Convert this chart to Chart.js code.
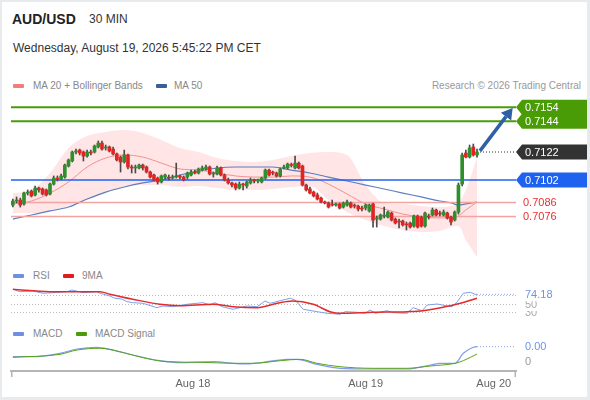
<!DOCTYPE html>
<html><head><meta charset="utf-8">
<script src="https://cdn.jsdelivr.net/npm/chart.js@4.4.1/dist/chart.umd.min.js"></script>
<style>
html,body{margin:0;padding:0;}
body{width:590px;height:400px;background:#e8ebee;position:relative;overflow:hidden;font-family:"Liberation Sans",Arial,sans-serif;}
#card{position:absolute;left:2px;top:2px;width:585px;height:395px;background:#fff;}
.t{position:absolute;white-space:nowrap;}
.sw{position:absolute;width:11px;height:4px;border-radius:1px;}
canvas{position:absolute;left:0;}
</style></head><body>
<div id="card"></div>
<div class="t" style="left:12px;top:12px;font-size:14px;line-height:14px;font-weight:bold;color:#222">AUD/USD</div>
<div class="t" style="left:89px;top:12px;font-size:12px;line-height:14px;color:#333">30 MIN</div>
<div class="t" style="left:13px;top:41px;font-size:12px;line-height:14px;color:#333">Wednesday, August 19, 2026 5:45:22 PM CET</div>
<div class="sw" style="left:13px;top:84px;background:#f77b7b"></div>
<div class="t" style="left:33px;top:80px;font-size:10px;line-height:12px;color:#888">MA 20 + Bollinger Bands</div>
<div class="sw" style="left:156px;top:84px;background:#3a5e9c"></div>
<div class="t" style="left:174px;top:80px;font-size:10px;line-height:12px;color:#888">MA 50</div>
<div class="t" style="right:9px;top:80px;font-size:10px;line-height:12px;color:#999">Research © 2026 Trading Central</div>
<div class="sw" style="left:13px;top:274px;background:#6d8fe6"></div>
<div class="t" style="left:33px;top:270px;font-size:10px;line-height:12px;color:#888">RSI</div>
<div class="sw" style="left:63px;top:274px;background:#e31b1b"></div>
<div class="t" style="left:82px;top:270px;font-size:10px;line-height:12px;color:#888">9MA</div>
<div class="sw" style="left:13px;top:332px;background:#6d8fe6"></div>
<div class="t" style="left:33px;top:328px;font-size:10px;line-height:12px;color:#888">MACD</div>
<div class="sw" style="left:76px;top:332px;background:#4a9a0a"></div>
<div class="t" style="left:95px;top:328px;font-size:10px;line-height:12px;color:#888">MACD Signal</div>
<canvas id="main" width="590" height="175" style="top:90px;width:590px;height:175px"></canvas>
<canvas id="rsi" width="590" height="34" style="top:284px;width:590px;height:34px"></canvas>
<canvas id="macd" width="590" height="60" style="top:338px;width:590px;height:60px"></canvas>
<script>
// ---- data ----
const open = [0.70841,0.70870,0.70877,0.70849,0.70927,0.70941,0.70913,0.70963,0.70956,0.70949,
0.70920,0.70991,0.71034,0.71027,0.71041,0.71120,0.71156,0.71220,0.71234,0.71220,
0.71191,0.71220,0.71220,0.71256,0.71284,0.71249,0.71256,0.71241,0.71206,0.71184,
0.71149,0.71199,0.71113,0.71106,0.71106,0.71127,0.71113,0.71077,0.71056,0.71034,
0.71006,0.71041,0.71041,0.71034,0.71041,0.71049,0.71041,0.71041,0.71056,0.71077,
0.71070,0.71091,0.71099,0.71113,0.71063,0.71063,0.71106,0.71056,0.71020,0.70999,
0.70991,0.70963,0.70991,0.70977,0.70999,0.71020,0.71013,0.71006,0.71034,0.71091,
0.71077,0.71070,0.71049,0.71106,0.71106,0.71127,0.71106,0.71141,0.71120,0.70984,
0.70956,0.70934,0.70913,0.70891,0.70863,0.70856,0.70849,0.70841,0.70849,0.70827,
0.70841,0.70856,0.70841,0.70834,0.70820,0.70820,0.70799,0.70849,0.70741,0.70741,
0.70763,0.70756,0.70784,0.70741,0.70727,0.70727,0.70706,0.70713,0.70691,0.70763,
0.70756,0.70691,0.70763,0.70770,0.70806,0.70784,0.70770,0.70784,0.70756,0.70734,
0.70791,0.70991,0.71213,0.71184,0.71256,0.71199];
const high = [0.70884,0.70899,0.70891,0.70934,0.70949,0.70949,0.70977,0.70970,0.70963,0.70956,
0.70999,0.71049,0.71049,0.71063,0.71134,0.71170,0.71227,0.71241,0.71241,0.71227,
0.71234,0.71234,0.71270,0.71299,0.71299,0.71270,0.71263,0.71256,0.71213,0.71191,
0.71234,0.71206,0.71127,0.71127,0.71134,0.71134,0.71120,0.71084,0.71063,0.71041,
0.71056,0.71063,0.71056,0.71056,0.71141,0.71056,0.71049,0.71077,0.71091,0.71091,
0.71106,0.71120,0.71127,0.71120,0.71077,0.71120,0.71113,0.71063,0.71034,0.71006,
0.70999,0.71006,0.70999,0.71013,0.71034,0.71027,0.71027,0.71041,0.71099,0.71099,
0.71084,0.71077,0.71106,0.71127,0.71141,0.71141,0.71191,0.71149,0.71127,0.70991,
0.70970,0.70941,0.70927,0.70899,0.70870,0.70863,0.70877,0.70856,0.70856,0.70863,
0.70877,0.70863,0.70849,0.70841,0.70834,0.70849,0.70849,0.70856,0.70763,0.70777,
0.70827,0.70799,0.70791,0.70749,0.70741,0.70734,0.70720,0.70720,0.70770,0.70770,
0.70763,0.70791,0.70777,0.70820,0.70813,0.70799,0.70806,0.70791,0.70763,0.70799,
0.70999,0.71213,0.71234,0.71270,0.71277,0.71241];
const low = [0.70827,0.70856,0.70827,0.70841,0.70913,0.70899,0.70906,0.70934,0.70913,0.70906,
0.70913,0.70984,0.71013,0.71020,0.71034,0.71113,0.71149,0.71206,0.71199,0.71156,
0.71184,0.71199,0.71213,0.71249,0.71234,0.71234,0.71220,0.71199,0.71156,0.71077,
0.71141,0.71099,0.71070,0.71070,0.71099,0.71091,0.71070,0.71034,0.71013,0.70991,
0.70999,0.71027,0.71020,0.71027,0.71034,0.71027,0.71013,0.71027,0.71049,0.71063,
0.71063,0.71084,0.71091,0.71056,0.71041,0.71056,0.71049,0.71013,0.70991,0.70970,
0.70949,0.70956,0.70949,0.70963,0.70991,0.70999,0.70999,0.70999,0.71027,0.71049,
0.71056,0.71041,0.71041,0.71099,0.71099,0.71113,0.71099,0.71099,0.70977,0.70941,
0.70920,0.70899,0.70877,0.70856,0.70849,0.70820,0.70834,0.70834,0.70813,0.70820,
0.70834,0.70820,0.70820,0.70799,0.70799,0.70806,0.70791,0.70684,0.70684,0.70734,
0.70749,0.70749,0.70727,0.70706,0.70677,0.70691,0.70663,0.70677,0.70684,0.70677,
0.70684,0.70684,0.70741,0.70763,0.70763,0.70763,0.70763,0.70741,0.70699,0.70727,
0.70777,0.70977,0.71177,0.71177,0.71191,0.71184];
const close = [0.70870,0.70877,0.70841,0.70927,0.70934,0.70906,0.70963,0.70949,0.70920,0.70913,
0.70991,0.71034,0.71027,0.71049,0.71127,0.71163,0.71220,0.71227,0.71213,0.71191,
0.71220,0.71213,0.71263,0.71284,0.71241,0.71256,0.71227,0.71206,0.71163,0.71149,
0.71199,0.71113,0.71106,0.71113,0.71127,0.71106,0.71077,0.71041,0.71020,0.71006,
0.71049,0.71056,0.71034,0.71041,0.71049,0.71041,0.71020,0.71070,0.71077,0.71070,
0.71099,0.71106,0.71113,0.71063,0.71070,0.71106,0.71056,0.71020,0.70999,0.70984,
0.70963,0.70991,0.70984,0.71006,0.71020,0.71013,0.71020,0.71034,0.71091,0.71056,
0.71070,0.71049,0.71099,0.71113,0.71134,0.71124,0.71141,0.71106,0.70984,0.70949,
0.70927,0.70906,0.70884,0.70863,0.70856,0.70827,0.70841,0.70849,0.70820,0.70856,
0.70863,0.70827,0.70834,0.70813,0.70813,0.70841,0.70841,0.70734,0.70749,0.70770,
0.70770,0.70791,0.70734,0.70713,0.70720,0.70699,0.70699,0.70684,0.70763,0.70684,
0.70691,0.70784,0.70756,0.70806,0.70770,0.70777,0.70791,0.70749,0.70720,0.70791,
0.70984,0.71199,0.71184,0.71249,0.71199,0.71220];

const indIdx = [0,5,10,15,20,25,30,35,40,45,50,55,60,65,70,75,80,85,90,95,100,105,110,115,118,120,122,125];
const ma20 = [0.70849,0.70870,0.70927,0.71006,0.71113,0.71177,0.71199,0.71184,0.71141,0.71099,0.71091,0.71070,0.71049,0.71041,0.71041,0.71049,0.71041,0.70991,0.70920,0.70849,0.70813,0.70777,0.70756,0.70749,0.70749,0.70763,0.70806,0.70863];
const bbUpper = [0.70927,0.70949,0.71070,0.71249,0.71334,0.71363,0.71377,0.71356,0.71306,0.71249,0.71220,0.71177,0.71156,0.71149,0.71163,0.71191,0.71213,0.71220,0.71199,0.70984,0.70856,0.70849,0.70834,0.70827,0.70834,0.70856,0.70949,0.71177];
const bbLower = [0.70784,0.70784,0.70799,0.70834,0.70877,0.70927,0.70970,0.70984,0.70984,0.70970,0.70977,0.70963,0.70949,0.70949,0.70956,0.70970,0.70977,0.70877,0.70791,0.70734,0.70691,0.70663,0.70649,0.70656,0.70684,0.70691,0.70592,0.70470];
const ma50 = [0.70741,0.70770,0.70799,0.70827,0.70884,0.70934,0.70970,0.70999,0.71020,0.71056,0.71084,0.71106,0.71113,0.71113,0.71113,0.71091,0.71070,0.71041,0.71013,0.70984,0.70956,0.70927,0.70899,0.70870,0.70856,0.70841,0.70849,0.70863];

const greenLevels = [0.7154, 0.7144];
const blueLevels = [0.7102];
const redLevels = [0.7086, 0.7076];
const lastPrice = 0.7122;
const arrowIdx = [125.8, 134.6];
const arrowPrice = [0.71228, 0.71535];

const rsiX = [0,1.9,5.4,8.1,10.8,14.6,15.9,18.9,22.6,23.5,26.1,27.5,29.4,30.7,32.3,35,38.8,40.4,43.1,46.9,51.2,53.1,54.4,56.3,59.3,63.1,65.8,67.9,69.3,72,74.7,76,78.2,81.9,84.6,88.1,89.5,92.7,94.9,96.2,97.6,100.8,102.4,106.2,107.8,110.2,111.6,114.3,117,118.3,119.7,121.3,123.2,124.5,125];
const rsiY = [86.8,80.8,82.5,76.8,78.3,80.8,85,78.3,80.8,76.8,70,64.3,62.5,55.8,53.3,51.8,40.8,45,43.3,49.3,53.3,47.5,53.3,43.3,36.8,45,43.3,57.5,51.8,58.3,64.3,60,36.8,30.8,26.8,24.3,30.8,29.3,26.8,35,26.8,33.3,28.3,26.8,40.8,33.3,47.5,50,45,43.3,55.8,76.8,79.3,74.3,74.18];
const rsiMaX = [0,10,23.5,26.1,32.3,39.6,45,53.9,59.3,65.8,71.2,75.2,80.9,85.4,88.1,97,106.2,110.5,117.8,120.5,125];
const rsiMaY = [86.8,80.8,80.8,74.3,61.8,49.3,45.8,49.3,43.3,40.8,51.8,57.5,49.3,30.8,26.8,29.3,30.8,33.3,45.8,51.8,64.3];
const rsiLevels = [30, 50, 70];

const macdX = [0,5.4,12.7,17.3,22.6,26.1,32.3,39.6,45,53.9,62,67.4,73.9,76.5,81.9,88.1,97,106.2,112.4,115.1,119.1,121.3,124,125];
const macdY = [0.000215,0.000215,0.000385,0.0006,0.000685,0.000585,0.0003,0.000015,-0.000085,-0.000035,-0.00015,-0.000065,0.000085,0.000085,-0.000165,-0.000365,-0.0004,-0.0004,-0.0002,-0.000115,-0.000115,0.000385,0.000685,0.000715];
const sigX = [0,12.7,17.3,23.5,28.8,35,41.5,50.4,59.3,64.7,72,77.4,81.9,88.1,97,106.2,112.4,119.1,121.3,125];
const sigY = [0.000185,0.000335,0.00055,0.000635,0.000465,0.000165,-0.000035,-0.000065,-0.000115,-0.000115,0.000015,0.000085,-0.000115,-0.000285,-0.000365,-0.000365,-0.00025,-0.000115,0.000015,0.00035];

const dayTickIdx = [48.5, 95, 129.5];
const dayLabels = ['Aug 18', 'Aug 19', 'Aug 20'];

// ---- config ----
const xMin = -0.5, xMax = 135.5;
const FONT = '"Liberation Sans", Arial, sans-serif';
const pad = {left: 11, right: 74};
const ptsOf = (xs, ys) => xs.map((x, i) => ({x, y: ys[i]}));
const candleIdx = open.map((_, i) => i);
const levelDs = (v, color, w) => ({type: 'line', data: [{x: xMin, y: v}, {x: xMax, y: v}], borderColor: color, borderWidth: w, pointRadius: 0, fill: false, order: 2});
const baseOpts = {responsive: false, animation: false, events: [], plugins: {legend: {display: false}, tooltip: {enabled: false}}};

function tag(ctx, a, yc, text, color) {
  const l = a.right, r = 587, h = 7.5;
  ctx.fillStyle = color;
  ctx.beginPath();
  ctx.moveTo(l, yc); ctx.lineTo(l + 6, yc - h); ctx.lineTo(r, yc - h); ctx.lineTo(r, yc + h); ctx.lineTo(l + 6, yc + h);
  ctx.closePath(); ctx.fill();
  ctx.fillStyle = '#fff'; ctx.font = '11px ' + FONT; ctx.textBaseline = 'middle'; ctx.textAlign = 'left';
  ctx.fillText(text, l + 9, yc + 0.5);
}

const mainDeco = {
  id: 'mainDeco',
  afterDraw(chart) {
    const {ctx, scales: {x, y}, chartArea: a} = chart;
    ctx.save();
    const yl = y.getPixelForValue(lastPrice);
    ctx.strokeStyle = '#333'; ctx.lineWidth = 1; ctx.setLineDash([1, 2]);
    ctx.beginPath(); ctx.moveTo(x.getPixelForValue(candleIdx.length - 1) + 3, yl); ctx.lineTo(a.right, yl); ctx.stroke();
    ctx.setLineDash([]);
    // arrow
    const x0 = x.getPixelForValue(arrowIdx[0]), y0 = y.getPixelForValue(arrowPrice[0]);
    const x1 = x.getPixelForValue(arrowIdx[1]), y1 = y.getPixelForValue(arrowPrice[1]);
    const ang = Math.atan2(y1 - y0, x1 - x0), hl = 11, hw = 6.5;
    const bx = x1 - hl * Math.cos(ang), by = y1 - hl * Math.sin(ang);
    ctx.strokeStyle = '#2f5fa7'; ctx.fillStyle = '#2f5fa7'; ctx.lineWidth = 3.5; ctx.lineCap = 'butt';
    ctx.beginPath(); ctx.moveTo(x0, y0); ctx.lineTo(bx, by); ctx.stroke();
    ctx.beginPath(); ctx.moveTo(x1, y1);
    ctx.lineTo(bx + hw * Math.sin(ang), by - hw * Math.cos(ang));
    ctx.lineTo(bx - hw * Math.sin(ang), by + hw * Math.cos(ang));
    ctx.closePath(); ctx.fill();
    // tags
    greenLevels.forEach(v => tag(ctx, a, y.getPixelForValue(v), v.toFixed(4), '#4a9c06'));
    tag(ctx, a, yl, lastPrice.toFixed(4), '#333333');
    blueLevels.forEach(v => tag(ctx, a, y.getPixelForValue(v), v.toFixed(4), '#1f62ef'));
    ctx.fillStyle = '#ee2e2e'; ctx.font = '11px ' + FONT; ctx.textBaseline = 'middle';
    redLevels.forEach(v => ctx.fillText(v.toFixed(4), a.right + 7, y.getPixelForValue(v) + 0.5));
    ctx.restore();
  }
};

new Chart(document.getElementById('main'), {
  type: 'bar',
  data: {datasets: [
    {type: 'bar', data: candleIdx.map(i => ({x: i, y: [open[i], close[i]]})),
     backgroundColor: candleIdx.map(i => close[i] >= open[i] ? '#2f8f2f' : '#e02424'),
     barThickness: 3, minBarLength: 1, grouped: false, order: 0},
    {type: 'bar', data: candleIdx.map(i => ({x: i, y: [low[i], high[i]]})),
     backgroundColor: '#4a4a4a', barThickness: 1, grouped: false, order: 1},
    ...greenLevels.map(v => levelDs(v, '#4a9c06', 2)),
    ...blueLevels.map(v => levelDs(v, '#2062ee', 1.5)),
    ...redLevels.map(v => levelDs(v, '#f4a3a3', 1.5)),
    {type: 'line', data: ptsOf(indIdx, ma20), borderColor: '#f29090', borderWidth: 1, pointRadius: 0, cubicInterpolationMode: 'monotone', fill: false, order: 3},
    {type: 'line', data: ptsOf(indIdx, ma50), borderColor: '#5b7fc0', borderWidth: 1.2, pointRadius: 0, cubicInterpolationMode: 'monotone', fill: false, order: 3},
    {type: 'line', data: ptsOf(indIdx, bbUpper), borderColor: 'rgba(0,0,0,0)', borderWidth: 0, pointRadius: 0, cubicInterpolationMode: 'monotone', fill: '+1', backgroundColor: 'rgba(255,175,175,0.33)', order: 5},
    {type: 'line', data: ptsOf(indIdx, bbLower), borderColor: 'rgba(0,0,0,0)', borderWidth: 0, pointRadius: 0, cubicInterpolationMode: 'monotone', fill: false, order: 5}
  ]},
  options: {...baseOpts,
    layout: {padding: {left: pad.left, right: pad.right, top: 0, bottom: 0}},
    scales: {
      x: {type: 'linear', min: xMin, max: xMax, offset: false, display: false},
      y: {type: 'linear', min: 0.70413, max: 0.71663, beginAtZero: false, display: false}
    }},
  plugins: [mainDeco]
});

const rsiDeco = {
  id: 'rsiDeco',
  afterDraw(chart) {
    const {ctx, scales: {x, y}, chartArea: a} = chart;
    const last = rsiY[rsiY.length - 1];
    ctx.save();
    const yl = y.getPixelForValue(last);
    ctx.strokeStyle = '#8aa6ec'; ctx.lineWidth = 1; ctx.setLineDash([1, 2]);
    ctx.beginPath(); ctx.moveTo(x.getPixelForValue(rsiX[rsiX.length - 1]), yl); ctx.lineTo(a.right, yl); ctx.stroke();
    ctx.setLineDash([]);
    const labs = [[30, '30', '#aaa'], [50, '50', '#aaa'], [last, last.toFixed(2), '#6f93ea']];
    ctx.font = '11px ' + FONT; ctx.textBaseline = 'middle';
    labs.forEach(([v, t, c]) => {
      const yc = y.getPixelForValue(v);
      ctx.fillStyle = '#fff'; ctx.fillRect(a.right + 5, yc - 7, 60, 14);
      ctx.fillStyle = c; ctx.fillText(t, a.right + 9, yc + 0.5);
    });
    ctx.restore();
  }
};

new Chart(document.getElementById('rsi'), {
  type: 'line',
  data: {datasets: [
    {data: ptsOf(rsiMaX, rsiMaY), borderColor: '#e42a2a', borderWidth: 1.5, pointRadius: 0, cubicInterpolationMode: 'monotone', fill: false, order: 0},
    {data: ptsOf(rsiX, rsiY), borderColor: '#7d9eee', borderWidth: 1, pointRadius: 0, tension: 0, fill: false, order: 1}
  ]},
  options: {...baseOpts,
    layout: {padding: {left: pad.left, right: pad.right, top: 0, bottom: 0}},
    scales: {
      x: {type: 'linear', min: xMin, max: xMax, display: false},
      y: {type: 'linear', min: 15, max: 100, display: true,
          ticks: {display: false}, grid: {color: '#bdbdbd', drawTicks: false, lineWidth: 1},
          border: {display: false, dash: [1, 2]},
          afterBuildTicks: s => { s.ticks = rsiLevels.map(v => ({value: v})); }}
    }},
  plugins: [rsiDeco]
});

const macdDeco = {
  id: 'macdDeco',
  afterDraw(chart) {
    const {ctx, scales: {x, y}, chartArea: a} = chart;
    const last = macdY[macdY.length - 1];
    ctx.save();
    const yl = y.getPixelForValue(last);
    ctx.strokeStyle = '#8aa6ec'; ctx.lineWidth = 1; ctx.setLineDash([1, 2]);
    ctx.beginPath(); ctx.moveTo(x.getPixelForValue(macdX[macdX.length - 1]), yl); ctx.lineTo(a.right, yl); ctx.stroke();
    ctx.setLineDash([]);
    ctx.font = '11px ' + FONT; ctx.textBaseline = 'middle';
    ctx.fillStyle = '#6f93ea'; ctx.fillText(last.toFixed(2), a.right + 9, yl + 0.5);
    ctx.fillStyle = '#999'; ctx.fillText('0', a.right + 9, y.getPixelForValue(0) + 0.5);
    // axis end ticks
    ctx.strokeStyle = '#b5b5b5'; ctx.lineWidth = 1.5;
    ctx.beginPath();
    ctx.moveTo(a.left + 0.75, a.bottom); ctx.lineTo(a.left + 0.75, a.bottom + 6);
    ctx.moveTo(a.right - 0.75, a.bottom); ctx.lineTo(a.right - 0.75, a.bottom + 6);
    ctx.stroke();
    ctx.restore();
  }
};

new Chart(document.getElementById('macd'), {
  type: 'line',
  data: {datasets: [
    {data: ptsOf(sigX, sigY), borderColor: '#5aa21a', borderWidth: 1, pointRadius: 0, cubicInterpolationMode: 'monotone', fill: false, order: 0},
    {data: ptsOf(macdX, macdY), borderColor: '#7d9eee', borderWidth: 1.2, pointRadius: 0, cubicInterpolationMode: 'monotone', fill: false, order: 1}
  ]},
  options: {...baseOpts,
    layout: {padding: {left: pad.left, right: pad.right, top: 2, bottom: 7}},
    scales: {
      x: {type: 'linear', min: xMin, max: xMax, offset: false, position: 'bottom',
          grid: {display: false, drawTicks: false},
          border: {display: true, color: '#b5b5b5', width: 2},
          ticks: {autoSkip: false, maxRotation: 0, padding: 6, color: '#666', font: {size: 11, family: FONT},
                  callback: (v, i) => dayLabels[i]},
          afterBuildTicks: s => { s.ticks = dayTickIdx.map(v => ({value: v})); },
          afterFit: s => { s.height = 20; }},
      y: {type: 'linear', min: -0.0005, max: 0.00105, display: false}
    }},
  plugins: [macdDeco]
});
</script>
</body></html>
